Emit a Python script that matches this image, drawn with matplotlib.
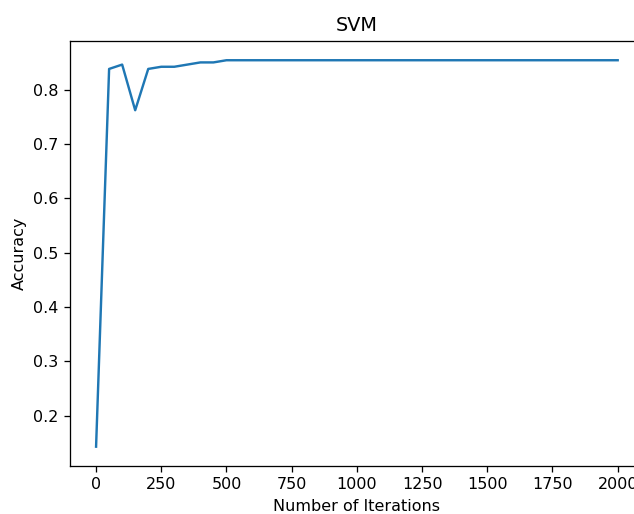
import matplotlib
matplotlib.use("Agg")
import matplotlib.pyplot as plt

# Accuracy of SVM vs number of iterations
iterations = [0, 50, 100, 150, 200, 250, 300, 350, 400, 450,
              500, 550, 600, 650, 700, 750, 800, 850, 900, 950,
              1000, 1050, 1100, 1150, 1200, 1250, 1300, 1350, 1400, 1450,
              1500, 1550, 1600, 1650, 1700, 1750, 1800, 1850, 1900, 1950,
              2000]
accuracy = [0.143, 0.838, 0.846, 0.762, 0.838, 0.842, 0.842, 0.846, 0.850, 0.850,
            0.854, 0.854, 0.854, 0.854, 0.854, 0.854, 0.854, 0.854, 0.854, 0.854,
            0.854, 0.854, 0.854, 0.854, 0.854, 0.854, 0.854, 0.854, 0.854, 0.854,
            0.854, 0.854, 0.854, 0.854, 0.854, 0.854, 0.854, 0.854, 0.854, 0.854,
            0.854]

# reference looks like a default figure rendered at ~116 dpi, then cropped
dpi = 115.7
fig = plt.figure(figsize=(634 / dpi, 514 / dpi), dpi=dpi)
# right spine sits just past the canvas edge, as in the reference crop
ax = fig.add_axes([0.1104, 0.0934, 0.905, 0.827])

ax.plot(iterations, accuracy)
ax.set_title("SVM")
ax.set_xlabel("Number of Iterations")
ax.set_ylabel("Accuracy")

fig.savefig("out.png", dpi=dpi)
